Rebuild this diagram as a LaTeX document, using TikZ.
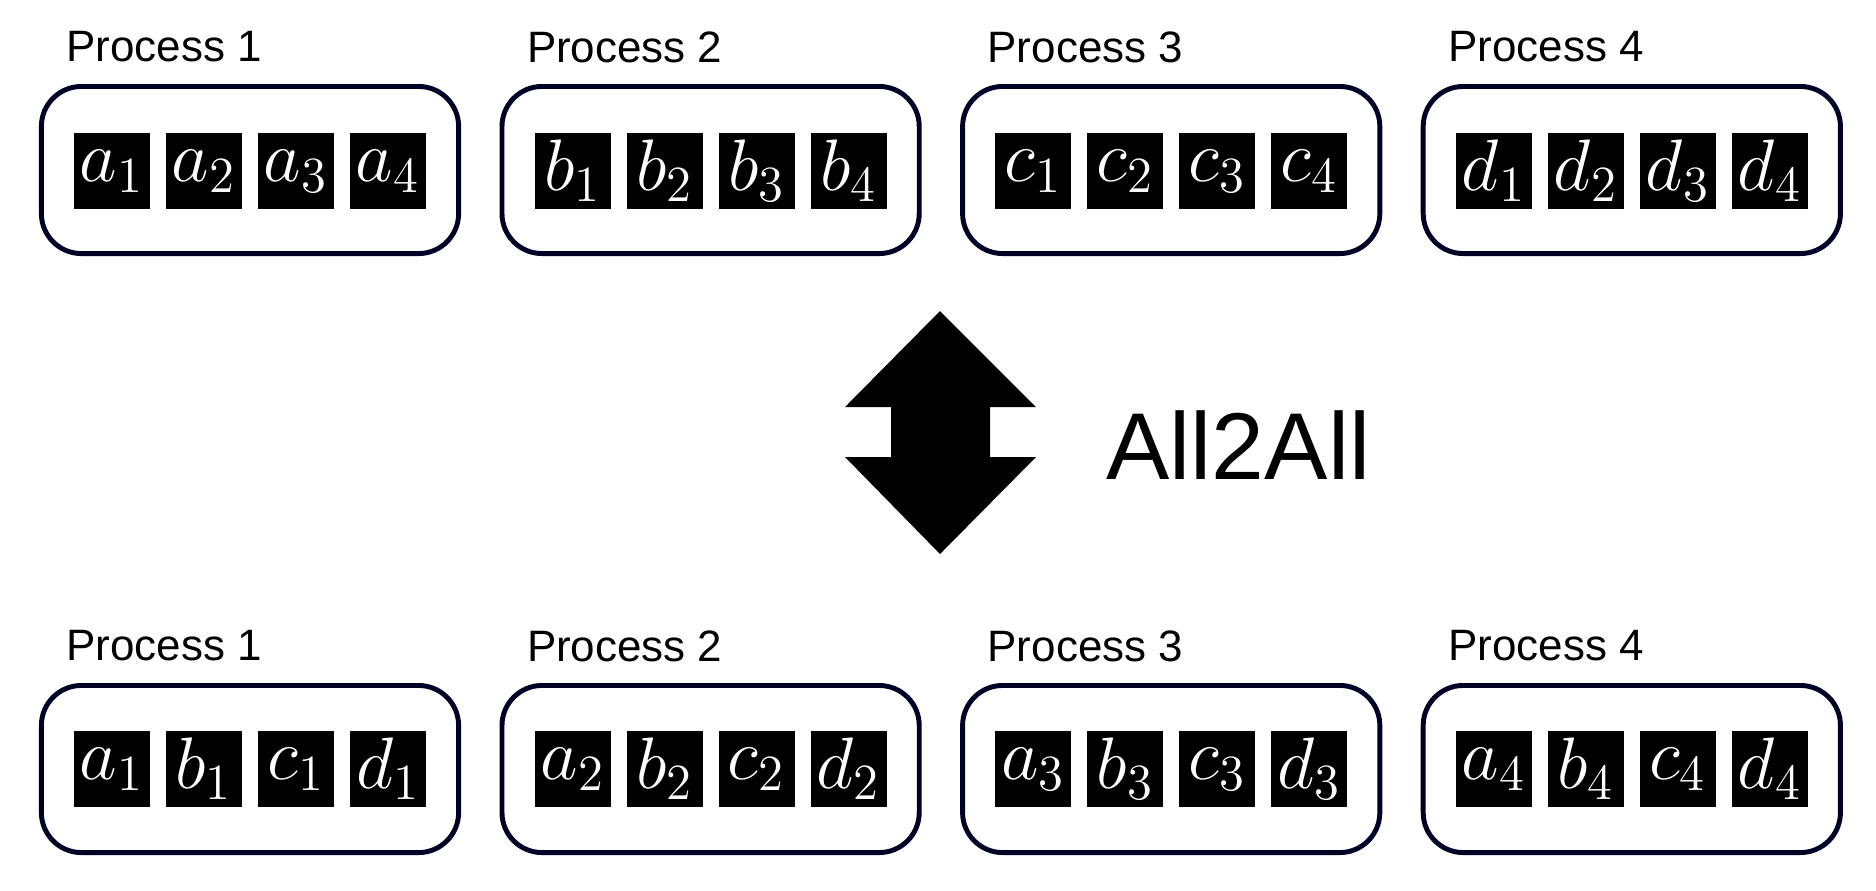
\documentclass[tikz,border=0pt]{standalone}
\usepackage{fontspec}
\setmainfont{Liberation Sans}
\usepackage{amsmath}
\usepackage{tikz}

\begin{document}
\begin{tikzpicture}[x=0.01cm,y=-0.01cm,
    procbox/.style={draw=black!85!blue, line width=1.4pt, rounded corners=0.4cm,
      minimum width=4.17cm, minimum height=1.67cm},
    cell/.style={fill=black, text=white, minimum size=0.76cm, inner sep=0pt,
      font=\fontsize{22}{22}\selectfont},
    plabel/.style={anchor=west, font=\fontsize{12.5}{14}\selectfont}]
    \useasboundingbox (0,0) rectangle (1876,890);

    % top row: before the exchange
    \foreach \p/\l in {1/a,2/b,3/c,4/d} {
        \node[procbox] (T\p) at ({250+460.6*(\p-1)}, 170) {};
        \node[plabel] (TL\p) at ({54+460.6*(\p-1)}, 47) {Process \p};
        \foreach \k in {1,...,4}
            \node[cell] (T\p\k) at ({112+460.6*(\p-1)+92*(\k-1)}, 171) {$\l_{\k}$};
    }

    % bottom row: after the exchange
    \foreach \p in {1,...,4} {
        \node[procbox] (B\p) at ({250+460.6*(\p-1)}, 769) {};
        \node[plabel] (BL\p) at ({54+460.6*(\p-1)}, 646) {Process \p};
        \foreach \l [count=\k] in {a,b,c,d}
            \node[cell] (B\p\k) at ({112+460.6*(\p-1)+92*(\k-1)}, 769) {$\l_{\p}$};
    }

    % double arrow
    \fill (940,311) -- (1036,407) -- (990,407) -- (990,457) -- (1036,457)
        -- (940,554) -- (845,457) -- (891,457) -- (891,407) -- (845,407) -- cycle;
    \node[anchor=west, font=\fontsize{27}{30}\selectfont] (op) at (1094,445) {All2All};
\end{tikzpicture}
\end{document}
